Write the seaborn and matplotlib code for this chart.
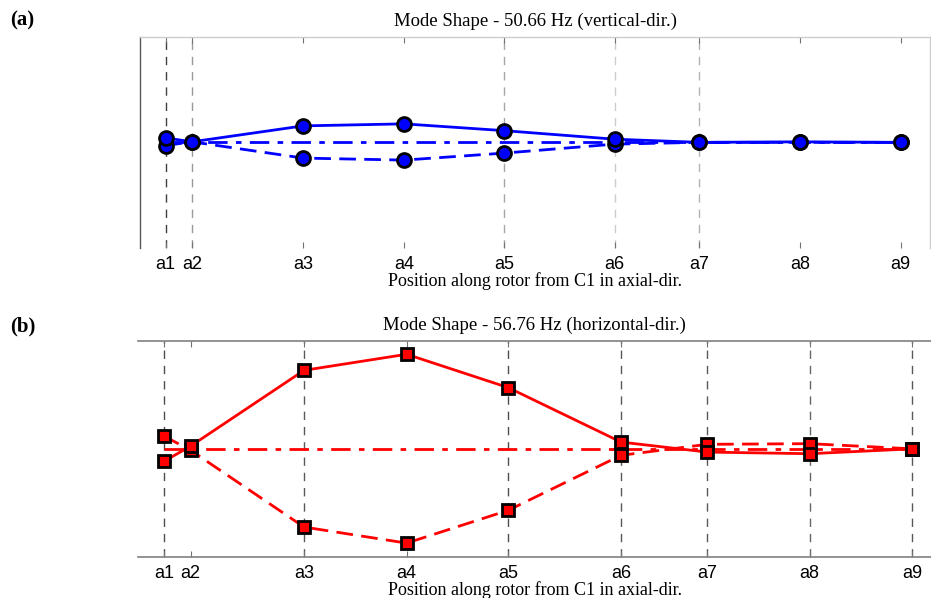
import matplotlib
matplotlib.use("Agg")
import matplotlib.pyplot as plt
import seaborn as sns
import pandas as pd

# station positions along the rotor (mm) and their labels
positions = [0, 50, 262, 454, 644, 855, 1016, 1208, 1400]
stations = ["a1", "a2", "a3", "a4", "a5", "a6", "a7", "a8", "a9"]

# mode (a) 50.66 Hz, vertical direction
vert_upper = [0.042, 0.005, 0.156, 0.175, 0.111, 0.030, 0.000, 0.005, 0.000]
vert_lower = [-0.030, 0.005, -0.149, -0.168, -0.102, -0.017, 0.000, 0.000, 0.000]
vert_rest = [0, 0, 0, 0, 0, 0, 0, 0, 0]

# mode (b) 56.76 Hz, horizontal direction
horiz_upper = [-0.116, 0.026, 0.728, 0.877, 0.568, 0.063, -0.030, -0.045, 0.000]
horiz_lower = [0.119, -0.014, -0.725, -0.874, -0.570, -0.060, 0.042, 0.048, 0.000]
horiz_rest = [0, 0, 0, 0, 0, 0, 0, 0, 0]

sns.set_style("white")
plt.rcParams["font.family"] = ["Liberation Serif", "DejaVu Serif"]
plt.rcParams["text.color"] = "black"
plt.rcParams["axes.labelcolor"] = "black"
plt.rcParams["xtick.color"] = "0.45"
plt.rcParams["xtick.labelcolor"] = "black"

fig = plt.figure(figsize=(9.31, 5.98), dpi=100)
W, H = 931, 598
ax_a = fig.add_axes([140 / W, 1 - 248 / H, 790 / W, (248 - 36.7) / H])
ax_b = fig.add_axes([138 / W, 1 - 556.7 / H, 793 / W, (556.7 - 341) / H])

# per-panel look of the scanned vertical guide lines (None = not visible)
grid_a = ["0.25", "0.6", None, None, "0.65", "0.8", "0.7", None, None]
grid_b = ["0.3", None, "0.35", None, "0.3", "0.35", "0.35", "0.4", "0.35"]


def draw_panel(ax, upper, lower, rest, color, marker, msize, grid, title, xlim):
    for x, g in zip(positions, grid):
        if g is not None:
            ax.axvline(x, color=g, lw=1, dashes=(6, 5), zorder=0)
    df = pd.DataFrame({"pos": positions, "upper": upper, "lower": lower, "rest": rest})
    sns.lineplot(data=df, x="pos", y="rest", ax=ax, color=color, lw=2,
                 linestyle=(0, (7, 3, 2, 3)), sort=False)
    sns.lineplot(data=df, x="pos", y="lower", ax=ax, color=color, lw=2,
                 linestyle=(0, (6, 3)), marker=marker, markersize=msize,
                 markerfacecolor=color, markeredgecolor="black",
                 markeredgewidth=2, sort=False)
    sns.lineplot(data=df, x="pos", y="upper", ax=ax, color=color, lw=2,
                 linestyle="-", marker=marker, markersize=msize,
                 markerfacecolor=color, markeredgecolor="black",
                 markeredgewidth=2, sort=False)
    ax.set_xlim(*xlim)
    ax.set_ylim(-1, 1)
    ax.set_yticks([])
    ax.set_xticks(positions)
    ax.set_xticklabels(stations, fontfamily="Liberation Sans", fontsize=13)
    ax.tick_params(axis="x", direction="in", top=True, bottom=True,
                   length=4, width=0.8, pad=6)
    ax.set_ylabel("")
    ax.set_xlabel("Position along rotor from C1 in axial-dir.", fontsize=13, labelpad=-1)
    ax.set_title(title, fontsize=13.5, pad=8)


draw_panel(ax_a, vert_upper, vert_lower, vert_rest, "#0000ff", "o", 10, grid_a,
           "Mode Shape - 50.66 Hz (vertical-dir.)", (-49, 1456))
draw_panel(ax_b, horiz_upper, horiz_lower, horiz_rest, "#ff0000", "s", 9, grid_b,
           "Mode Shape - 56.76 Hz (horizontal-dir.)", (-48.6, 1435))

# spines as they appear in the reference
for side, col in [("left", "0.35"), ("top", "0.8"), ("right", "0.8")]:
    ax_a.spines[side].set_color(col)
    ax_a.spines[side].set_linewidth(1)
ax_a.spines["bottom"].set_visible(False)
for side in ["top", "bottom"]:
    ax_b.spines[side].set_color("0.5")
    ax_b.spines[side].set_linewidth(1.2)
ax_b.spines["left"].set_visible(False)
ax_b.spines["right"].set_visible(False)

fig.text(10 / W, 1 - 20 / H, "(a)", fontsize=15, fontweight="bold", va="center")
fig.text(10 / W, 1 - 326 / H, "(b)", fontsize=15, fontweight="bold", va="center")

fig.savefig("out.png", dpi=100)
